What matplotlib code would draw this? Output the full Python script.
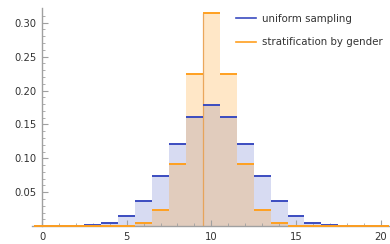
import matplotlib
matplotlib.use("Agg")
import matplotlib.pyplot as plt
import numpy as np

# data
counts = list(range(0, 21))
uniform_sampling = [0, 0, 0.0002, 0.0011, 0.0047, 0.0150, 0.0368, 0.0740, 0.1205, 0.1615,
                    0.1780, 0.1615, 0.1205, 0.0740, 0.0368, 0.0150, 0.0047, 0.0011, 0.0002, 0, 0]
stratified = [0, 0, 0, 0, 0, 0.0004, 0.0050, 0.0240, 0.0920, 0.2237,
              0.3149, 0.2237, 0.0920, 0.0240, 0.0050, 0.0004, 0, 0, 0, 0, 0]
labels = ["uniform sampling", "stratification by gender"]

blue = "#3b4cc0"
orange = "#ffa020"
gray = "#a0a0a0"
txt = "#333333"

fig = plt.figure(figsize=(3.9, 2.44), dpi=100)
ax = fig.add_axes([31.84 / 390, (244 - 226.2) / 244, (390 - 31.84) / 390, (226.2 - 8.3) / 244])

x = np.array(counts)
ax.bar(x, uniform_sampling, width=1.0, color=blue, alpha=0.2, linewidth=0, zorder=1)
ax.bar(x, stratified, width=1.0, color=orange, alpha=0.25, linewidth=0, zorder=1.1)
ax.vlines(9.5, 0, stratified[10], color="#e8a050", alpha=0.9, lw=0.9, zorder=1.2)

ax.hlines(uniform_sampling, x - 0.5, x + 0.5, color=blue, lw=1.4, zorder=3, clip_on=False)
ax.hlines(stratified, x - 0.5, x + 0.5, color=orange, lw=1.4, zorder=3.1, clip_on=False)

ax.plot([], [], color=blue, lw=1.2, label=labels[0])
ax.plot([], [], color=orange, lw=1.2, label=labels[1])

ax.set_xlim(-0.6, 20.55)
ax.set_ylim(0, 0.3212)

for s in ["top", "right"]:
    ax.spines[s].set_visible(False)
ax.spines["left"].set_position(("data", 0))
for s in ["left", "bottom"]:
    ax.spines[s].set_color(gray)
    ax.spines[s].set_linewidth(1.0)
ax.spines["bottom"].set_zorder(2)

ax.set_xticks([0, 5, 10, 15, 20])
ax.set_xticks(range(0, 21), minor=True)
ax.set_yticks([0.05, 0.10, 0.15, 0.20, 0.25, 0.30])
ax.set_yticklabels(["0.05", "0.10", "0.15", "0.20", "0.25", "0.30"])
ax.set_yticks(np.arange(0.01, 0.32, 0.01), minor=True)
ax.tick_params(axis="both", which="major", direction="in", length=4, width=0.8,
               color=gray, labelcolor=txt, labelsize=7.2)
ax.tick_params(axis="both", which="minor", direction="in", length=2.2, width=0.6, color=gray)
ax.tick_params(axis="x", pad=4)
ax.tick_params(axis="y", pad=4)

leg = ax.legend(loc="upper left", bbox_to_anchor=(236 / 390, 1 - 13.5 / 244),
                bbox_transform=fig.transFigure, frameon=False, fontsize=7.35,
                handlelength=1.95, handletextpad=0.6, labelspacing=1.35, borderpad=0,
                borderaxespad=0)
for t in leg.get_texts():
    t.set_color(txt)

fig.savefig("out.png", dpi=100)
